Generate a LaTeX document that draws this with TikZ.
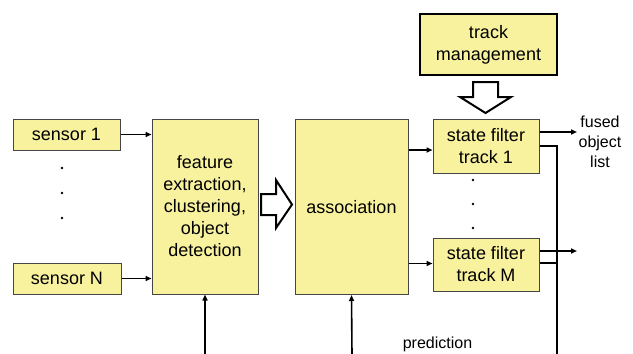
\documentclass[tikz,border=0pt]{standalone}
\usepackage{fontspec}
\setmainfont{Liberation Sans}
\usetikzlibrary{arrows.meta,calc}
\definecolor{boxfill}{RGB}{248,242,158}
\definecolor{boxline}{RGB}{70,70,70}
\tikzset{
  blk/.style={draw=boxline, line width=1pt, fill=boxfill, inner sep=0pt,
    align=center, font=\fontsize{18}{22}\selectfont},
  conn/.style={line width=1.6pt, -{Triangle[length=6pt,width=5pt]}},
  plain/.style={line width=1.6pt},
  hollow/.style={draw=black, line width=2pt, fill=white, line join=miter},
  lbl/.style={align=center, font=\fontsize{16}{20}\selectfont, inner sep=0pt},
}
\begin{document}
\begin{tikzpicture}[x=1pt,y=-1pt]
\useasboundingbox (0,0) rectangle (633,354);
\node[blk, minimum width=107pt, minimum height=31pt] (s1) at (66.5,134.5) {sensor 1};
\node[blk, minimum width=108pt, minimum height=31pt] (sN) at (67,278.5) {sensor N};
\node[blk, minimum width=106pt, minimum height=175pt] (feat) at (205,206.5) {feature\\extraction,\\clustering,\\object\\detection};
\node[blk, minimum width=113pt, minimum height=175pt] (assoc) at (351.5,207) {association};
\node[blk, draw=black, line width=2.6pt, minimum width=137pt, minimum height=61pt] (tm) at (488.5,44.5) {track\\management};
\node[blk, minimum width=106pt, minimum height=54pt] (sf1) at (486,146) {state filter\\track 1};
\node[blk, minimum width=106pt, minimum height=53pt] (sfM) at (486,264.5) {state filter\\track M};
% dots
\foreach \y in {168,193,218} \fill (62,\y) circle (1.3pt);
\foreach \y in {180,204,228} \fill (473,\y) circle (1.3pt);
% sensor arrows
\draw[conn] (s1.east) -- (s1.east -| feat.west);
\draw[conn] (sN.east) -- (sN.east -| feat.west);
% assoc to filters
\draw[conn] ([yshift=-4pt]sf1.west -| assoc.east) -- ([yshift=-4pt]sf1.west);
\draw[conn] ([yshift=1pt]sfM.west -| assoc.east) -- ([yshift=1pt]sfM.west);
% outputs
\coordinate (o1) at (577,132);
\coordinate (oM) at (577,251);
\draw[conn] (sf1.east |- o1) -- (o1);
\draw[conn] (sfM.east |- oM) -- (oM);
% feedback
\coordinate (fbtop) at (557,146);
\coordinate (fbbot) at (557,354);
\draw[plain] (sf1.east |- fbtop) -- (fbtop) -- (fbbot);
\draw[plain] ([yshift=1.5pt]sfM.east) -- ([yshift=1.5pt]sfM.east -| fbtop);
% bottom inputs
\coordinate (pf) at (205,354);
\coordinate (pa) at (352,354);
\draw[conn] (pf) -- (feat.south);
\draw[conn] (pa) -- (assoc.south);
% hollow arrows
\draw[hollow] (261,194) -- (276,194) -- (276,180) -- (292,204.5) -- (276,228) -- (276,215) -- (261,215) -- cycle;
\draw[hollow] (473,82) -- (498,82) -- (498,97) -- (511,97) -- (485.5,113) -- (460,97) -- (473,97) -- cycle;
% labels
\node[lbl] (fol) at (600,142) {fused\\object\\list};
\node[lbl] (pred) at (437.5,344) {prediction};
\end{tikzpicture}
\end{document}
